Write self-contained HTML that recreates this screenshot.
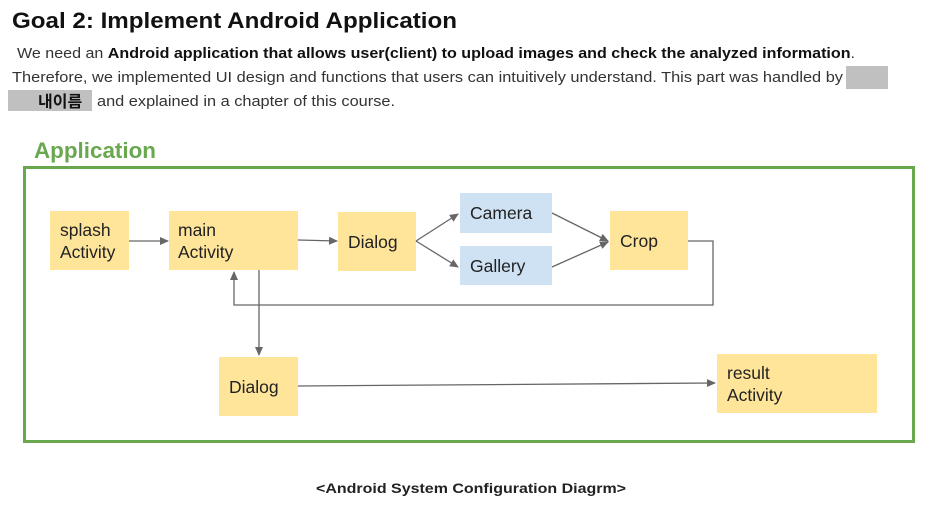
<!DOCTYPE html>
<html><head><meta charset="utf-8"><style>
html,body{margin:0;padding:0;background:#fff;width:936px;height:510px;overflow:hidden}
svg{display:block}
text{font-family:"Liberation Sans","Noto Sans CJK KR",sans-serif}
</style></head><body>
<svg width="936" height="510" viewBox="0 0 936 510" xmlns="http://www.w3.org/2000/svg">
<defs><marker id="a" markerWidth="10" markerHeight="10" refX="8" refY="4" orient="auto" markerUnits="userSpaceOnUse"><path d="M0,0 L9,4 L0,8 z" fill="#666"/></marker></defs>
<text x="12" y="28" font-size="22" font-weight="bold" fill="#111" textLength="445" lengthAdjust="spacingAndGlyphs">Goal 2: Implement Android Application</text>
<text x="17" y="58" font-size="15" fill="#333" textLength="838" lengthAdjust="spacingAndGlyphs">We need an <tspan font-weight="bold" fill="#111">Android application that allows user(client) to upload images and check the analyzed information</tspan>.</text>
<text x="12" y="82" font-size="15" fill="#333" textLength="831" lengthAdjust="spacingAndGlyphs">Therefore, we implemented UI design and functions that users can intuitively understand. This part was handled by</text>
<rect x="846" y="66" width="42" height="23" fill="#c0c0c0"/>
<rect x="8" y="90" width="84" height="21" fill="#c0c0c0"/>
<text x="38" y="107" font-size="16" font-weight="bold" fill="#111">내이름</text>
<text x="97" y="106" font-size="15" fill="#333" textLength="298" lengthAdjust="spacingAndGlyphs">and explained in a chapter of this course.</text>
<text x="34" y="158" font-size="22" font-weight="bold" fill="#6aa84f" textLength="122" lengthAdjust="spacingAndGlyphs">Application</text>
<rect x="24.5" y="167.5" width="889" height="274" fill="none" stroke="#6aa84f" stroke-width="3"/>
<g fill="#ffe599">
<rect x="50" y="211" width="79" height="59"/>
<rect x="169" y="211" width="129" height="59"/>
<rect x="338" y="212" width="78" height="59"/>
<rect x="610" y="211" width="78" height="59"/>
<rect x="219" y="357" width="79" height="59"/>
<rect x="717" y="354" width="160" height="59"/>
</g>
<g fill="#cfe2f3">
<rect x="460" y="193" width="92" height="40"/>
<rect x="460" y="246" width="92" height="39"/>
</g>
<g font-size="17.5" fill="#222">
<text x="60" y="236">splash</text><text x="60" y="258">Activity</text>
<text x="178" y="236">main</text><text x="178" y="258">Activity</text>
<text x="348" y="248">Dialog</text>
<text x="470" y="219">Camera</text>
<text x="470" y="272">Gallery</text>
<text x="620" y="247">Crop</text>
<text x="229" y="393">Dialog</text>
<text x="727" y="379">result</text><text x="727" y="401">Activity</text>
</g>
<g stroke="#666" stroke-width="1.3" fill="none" marker-end="url(#a)">
<line x1="129" y1="241" x2="168" y2="241"/>
<line x1="298" y1="240" x2="337" y2="241"/>
<line x1="416" y1="241" x2="458" y2="214"/>
<line x1="416" y1="241" x2="458" y2="267"/>
<line x1="552" y1="213" x2="608" y2="241"/>
<line x1="552" y1="267" x2="608" y2="242"/>
<polyline points="688,241 713,241 713,305 234,305 234,272"/>
<line x1="259" y1="270" x2="259" y2="355"/>
<line x1="298" y1="386" x2="715" y2="383"/>
</g>
<text x="316" y="493" font-size="14" font-weight="bold" fill="#222" textLength="310" lengthAdjust="spacingAndGlyphs">&lt;Android System Configuration Diagrm&gt;</text>
</svg>
</body></html>
